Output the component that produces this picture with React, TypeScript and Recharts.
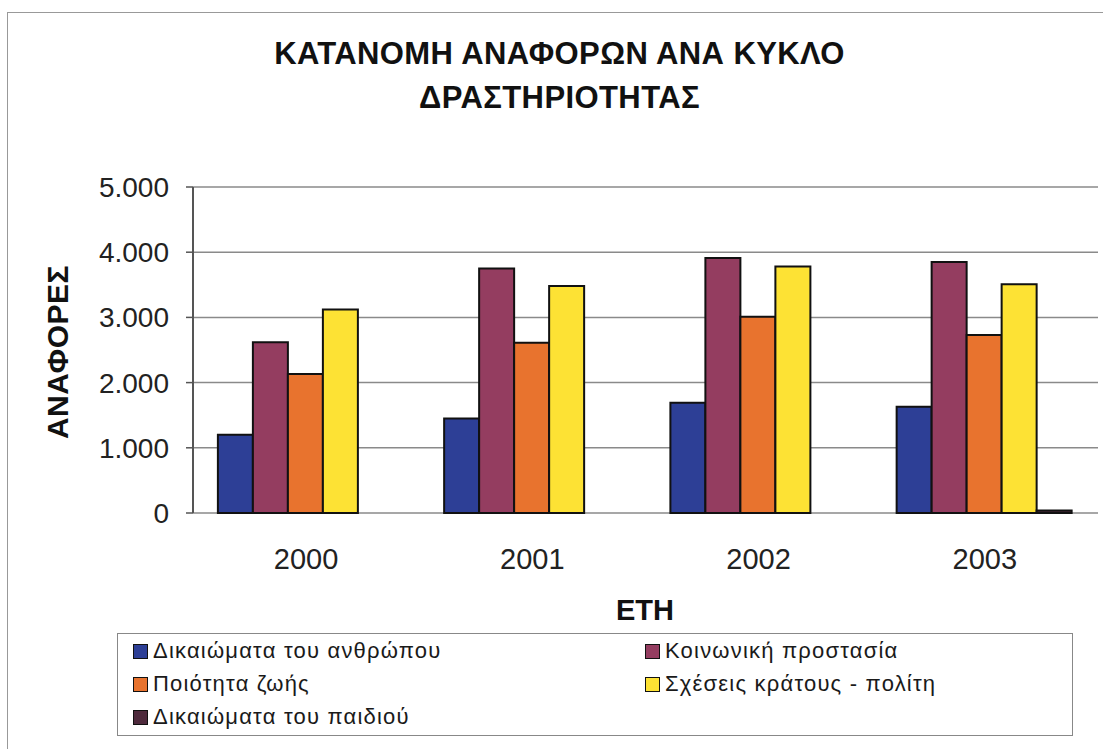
import React from 'react';
import { BarChart, Bar, XAxis, YAxis, CartesianGrid } from 'recharts';

const years = ['2000', '2001', '2002', '2003'];
const humanRights = [1200, 1450, 1690, 1630];
const socialProtection = [2620, 3750, 3910, 3850];
const qualityOfLife = [2130, 2610, 3010, 2730];
const stateCitizen = [3120, 3480, 3780, 3510];
const childRights = [0, 0, 0, 40];

const seriesKeys = ['hr', 'sp', 'ql', 'sc', 'cr'];
const seriesNames = [
  'Δικαιώματα του ανθρώπου',
  'Κοινωνική προστασία',
  'Ποιότητα ζωής',
  'Σχέσεις κράτους - πολίτη',
  'Δικαιώματα του παιδιού',
];
const seriesColors = ['#2d3f96', '#943d60', '#e8732e', '#fde234', '#4e2a3c'];
const yTicks = [0, 1000, 2000, 3000, 4000, 5000];
const boundaryTicks = [0, 1, 2, 3, 4];

const titleLines = ['ΚΑΤΑΝΟΜΗ ΑΝΑΦΟΡΩΝ ΑΝΑ ΚΥΚΛΟ', 'ΔΡΑΣΤΗΡΙΟΤΗΤΑΣ'];
const yTitle = 'ΑΝΑΦΟΡΕΣ';
const xTitle = 'ΕΤΗ';

const seriesValues = [humanRights, socialProtection, qualityOfLife, stateCitizen, childRights];

const data = years.map((y, i) => {
  const row: Record<string, number | string> = { year: y, idx: i };
  seriesKeys.forEach((k, s) => {
    row[k] = seriesValues[s][i];
  });
  return row;
});

const fmt = (v: number) => String(v).replace(/\B(?=(\d{3})+(?!\d))/g, '.');

const FONT = '"Liberation Sans", Arial, sans-serif';

const legendOrder = [0, 1, 2, 3, 4];

export default function App() {
  return (
    <div
      style={{
        position: 'absolute',
        left: 0,
        top: 0,
        width: 1103,
        height: 749,
        background: '#fff',
        fontFamily: FONT,
        overflow: 'hidden',
      }}
    >
      {/* outer frame */}
      <div
        style={{
          position: 'absolute',
          left: 7,
          top: 12,
          width: 1110,
          height: 760,
          borderTop: '1.5px solid #999',
          borderLeft: '1.5px solid #999',
        }}
      />
      {/* title */}
      <div
        style={{
          position: 'absolute',
          left: 0,
          top: 32,
          width: 1103,
          textAlign: 'center',
          fontSize: 31,
          lineHeight: '44px',
          fontWeight: 'bold',
          color: '#111',
          paddingLeft: 8,
          letterSpacing: 0.4,
        }}
      >
        {titleLines.map((t) => (
          <div key={t}>{t}</div>
        ))}
      </div>
      {/* y title */}
      <div
        style={{
          position: 'absolute',
          left: 58 - 150,
          top: 352 - 15,
          width: 300,
          height: 30,
          lineHeight: '30px',
          textAlign: 'center',
          fontSize: 30,
          fontWeight: 'bold',
          color: '#111',
          letterSpacing: 0.5,
          transform: 'rotate(-90deg)',
          transformOrigin: '150px 15px',
        }}
      >
        {yTitle}
      </div>
      {/* x title */}
      <div
        style={{
          position: 'absolute',
          left: 645 - 100,
          top: 590,
          width: 200,
          lineHeight: '40px',
          textAlign: 'center',
          fontSize: 29,
          fontWeight: 'bold',
          color: '#111',
        }}
      >
        {xTitle}
      </div>

      <div style={{ position: 'absolute', left: 0, top: 0 }}>
        <BarChart
          width={1103}
          height={749}
          data={data}
          margin={{ top: 187, right: 5, bottom: 176, left: 100 }}
          barCategoryGap="11%"
          barGap={0}
        >
          <CartesianGrid vertical={false} stroke="#8a8a8a" strokeWidth={1.5} yAxisId="l" xAxisId="c" />
          <XAxis
            xAxisId="b"
            dataKey="idx"
            type="number"
            domain={[0, 4]}
            ticks={boundaryTicks}
            height={0}
            tickFormatter={() => ''}
            tickSize={8}
            tickLine={{ stroke: '#666', strokeWidth: 1.5 }}
            axisLine={{ stroke: '#666', strokeWidth: 1.5 }}
            allowDataOverflow
          />
          <XAxis
            xAxisId="c"
            dataKey="year"
            axisLine={false}
            tickLine={false}
            tickSize={0}
            tickMargin={35}
            height={60}
            tick={{ fontSize: 29, fill: '#222', fontFamily: FONT }}
          />
          <YAxis
            yAxisId="l"
            domain={[0, 5000]}
            ticks={yTicks}
            width={93}
            tickFormatter={fmt}
            tickSize={7}
            tickMargin={17}
            axisLine={{ stroke: '#555', strokeWidth: 2 }}
            tickLine={{ stroke: '#555', strokeWidth: 1.5 }}
            tick={{ fontSize: 28, fill: '#222', fontFamily: FONT }}
          />
          <YAxis
            yAxisId="r"
            orientation="right"
            domain={[0, 5000]}
            width={0}
            tick={false}
            tickLine={false}
            axisLine={{ stroke: '#8a8a8a', strokeWidth: 1.5 }}
          />
          {seriesKeys.map((k, s) => (
            <Bar
              key={k}
              dataKey={k}
              name={seriesNames[s]}
              xAxisId="c"
              yAxisId="l"
              fill={seriesColors[s]}
              stroke="#111"
              strokeWidth={2}
              isAnimationActive={false}
            />
          ))}
        </BarChart>
      </div>

      {/* legend */}
      <div
        style={{
          position: 'absolute',
          left: 117,
          top: 633,
          width: 956,
          height: 103,
          border: '1.5px solid #888',
          boxSizing: 'border-box',
        }}
      >
        {legendOrder.map((s, i) => {
          const col = i % 2;
          const row = Math.floor(i / 2);
          return (
            <div
              key={seriesKeys[s]}
              style={{
                position: 'absolute',
                left: col === 0 ? 15 : 527,
                top: 2 + row * 33,
                height: 30,
                display: 'flex',
                alignItems: 'center',
                fontSize: 22,
                color: '#1a1a1a',
                letterSpacing: 1.2,
                whiteSpace: 'nowrap',
              }}
            >
              <span
                style={{
                  display: 'inline-block',
                  width: 15,
                  height: 15,
                  background: seriesColors[s],
                  border: '1.5px solid #111',
                  boxSizing: 'border-box',
                  marginRight: 5,
                }}
              />
              {seriesNames[s]}
            </div>
          );
        })}
      </div>
    </div>
  );
}
